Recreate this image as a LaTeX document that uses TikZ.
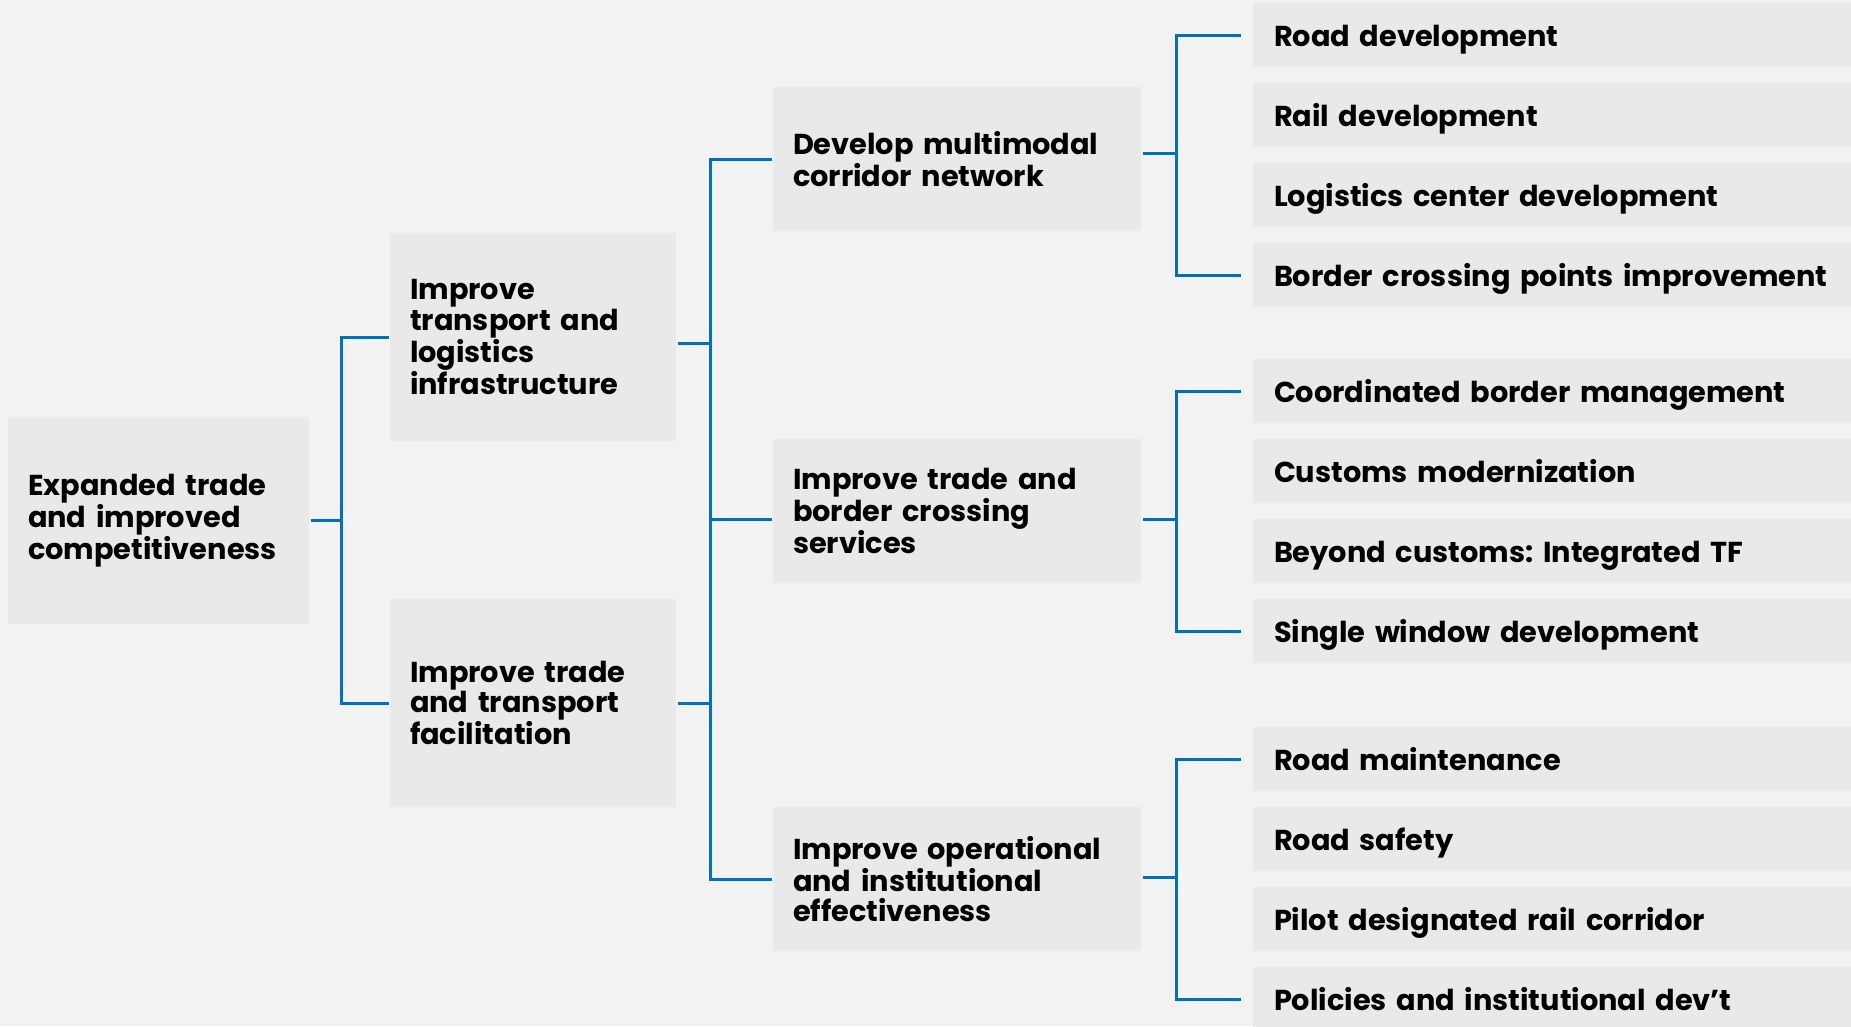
\documentclass[tikz,border=0pt]{standalone}
\usepackage{fontspec}
\setmainfont{Poppins}
\usetikzlibrary{calc}
\definecolor{bg1}{RGB}{242, 242, 242}
\definecolor{box1}{RGB}{233, 233, 233}
\definecolor{blue1}{RGB}{0, 112, 192}
\frenchspacing

\begin{document}
\begin{tikzpicture}[x=1pt, y=-1pt, line width=3pt,
  box/.style={fill=box1, inner xsep=20pt, inner ysep=0pt, align=left,
    font=\bfseries\fontsize{28.8}{30.5}\selectfont},
  goalbox/.style={box, text width=261pt, minimum height=207pt},
  midbox/.style={box, text width=246pt, minimum height=208pt},
  subbox/.style={box, text width=328pt, minimum height=144pt},
  leafbox/.style={box, inner xsep=21pt, text width=600pt, minimum height=64pt,
    text height=22pt, text depth=0pt},
  link/.style={draw=blue1, line width=3pt}]
  \fill[bg1] (0,0) rectangle (1851,1026);
  \useasboundingbox (0,0) rectangle (1851,1026);

  \node[goalbox] (goal) at (158.5,520.5) {Expanded trade\\and improved\\competitiveness};
  \node[midbox] (infra) at (533,337) {Improve\\transport and\\logistics\\infrastructure};
  \node[midbox] (facil) at (533,703) {Improve trade\\and transport\\facilitation};
  \node[subbox] (corr) at (957,159) {Develop multimodal\\corridor network};
  \node[subbox] (serv) at (957,511) {Improve trade and\\border crossing\\services};
  \node[subbox] (oper) at (957,879) {Improve operational\\and institutional\\effectiveness};

  \node[leafbox] (a1) at (1574,35) {Road development};
  \node[leafbox] (a2) at (1574,115) {Rail development};
  \node[leafbox] (a3) at (1574,195) {Logistics center development};
  \node[leafbox] (a4) at (1574,275) {Border crossing points improvement};
  \node[leafbox] (b1) at (1574,391) {Coordinated border management};
  \node[leafbox] (b2) at (1574,471) {Customs modernization};
  \node[leafbox] (b3) at (1574,551) {Beyond customs: Integrated TF};
  \node[leafbox] (b4) at (1574,631) {Single window development};
  \node[leafbox] (c1) at (1574,759) {Road maintenance};
  \node[leafbox] (c2) at (1574,839) {Road safety};
  \node[leafbox] (c3) at (1574,919) {Pilot designated rail corridor};
  \node[leafbox] (c4) at (1574,999) {Policies and institutional dev’t};

  \draw[link] (goal.east) -- ++(31,0) coordinate (k1);
  \draw[link] (infra.west) -| (k1) |- (facil.west);
  \draw[link] ([yshift=-6pt]infra.east) -- ++(33,0) coordinate (k2);
  \draw[link] (facil.east) -- (facil.east -| k2);
  \draw[link] (corr.west) -| (k2) |- (oper.west);
  \draw[link] ([yshift=-8pt]serv.west) -- ([yshift=-8pt]serv.west -| k2);
  \foreach \from/\first/\last/\dy in {corr/a1/a4/6, serv/b1/b4/-8, oper/c1/c4/2}{
    \draw[link] ([yshift=\dy pt]\from.east) -- ++(34,0) coordinate (k3);
    \draw[link] ([xshift=-11pt]\first.west) -| (k3) |- ([xshift=-11pt]\last.west);
  }
\end{tikzpicture}
\end{document}
